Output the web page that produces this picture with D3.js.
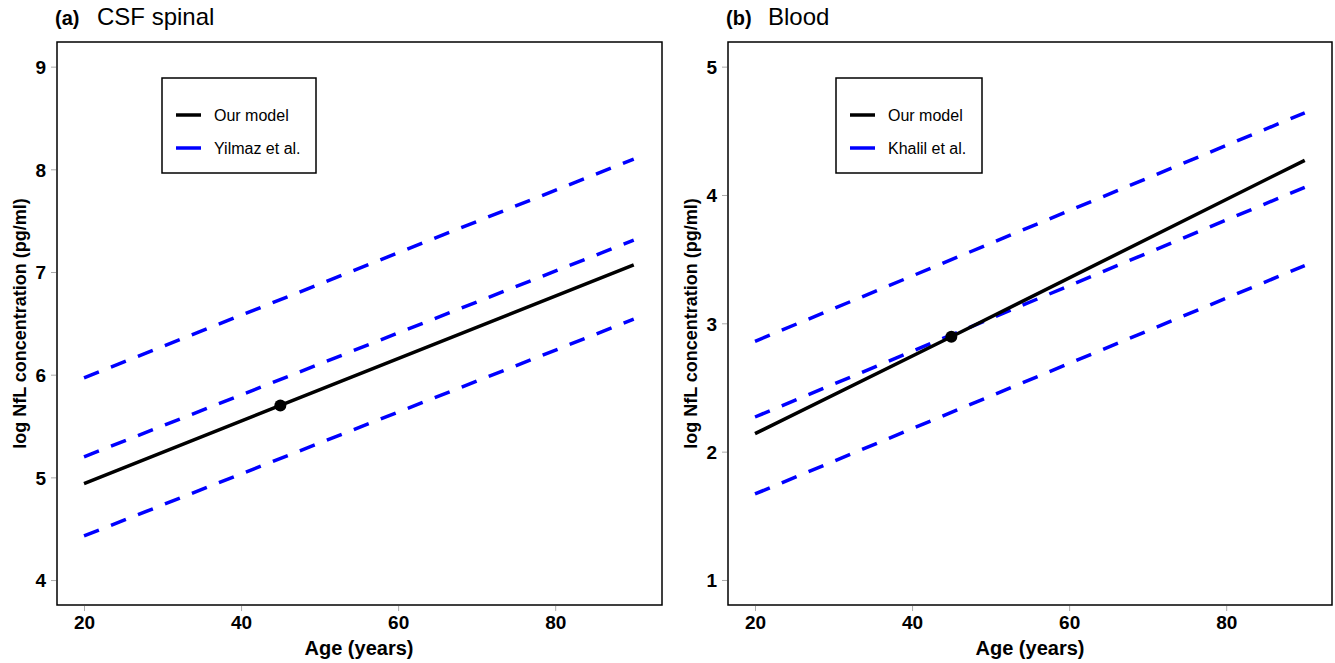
<!DOCTYPE html>
<html lang="en">
<head>
    <meta charset="UTF-8">
    <title>NfL vs age</title>
    <script src="https://d3js.org/d3.v7.min.js"></script>
    <style>
        body { margin: 0; padding: 0; background: white; }
        svg { font-family: "Liberation Sans", Arial, sans-serif; }
        .tick line { stroke: #aaa; }
        .tick text { font-weight: bold; font-size: 19px; fill: #000; }
    </style>
</head>
<body>
    <div id="chart"></div>
    <script>
        // values
        var ages = [20, 45, 90];
        var refAges = [20, 90];
        var xTicks = [20, 40, 60, 80];

        var csfModel = [4.94, 5.70, 7.07];
        var csfRefUpper = [5.97, 8.10];
        var csfRefMid = [5.20, 7.31];
        var csfRefLower = [4.43, 6.54];
        var csfTicks = [4, 5, 6, 7, 8, 9];

        var bloodModel = [2.14, 2.895, 4.27];
        var bloodRefUpper = [2.86, 4.64];
        var bloodRefMid = [2.27, 4.06];
        var bloodRefLower = [1.67, 3.45];
        var bloodTicks = [1, 2, 3, 4, 5];

        var width = 1335, height = 663;
        var svg = d3.select("#chart").append("svg")
            .attr("width", width)
            .attr("height", height);

        var panels = [
            { tag: "(a)", title: "CSF spinal", left: 57, right: 662, yDomain: [3.757, 9.24],
              model: csfModel, refs: [csfRefUpper, csfRefMid, csfRefLower], ticks: csfTicks,
              refName: "Yilmaz et al.", legend: [162, 78, 154, 95] },
            { tag: "(b)", title: "Blood", left: 728, right: 1332, yDomain: [0.805, 5.192],
              model: bloodModel, refs: [bloodRefUpper, bloodRefMid, bloodRefLower], ticks: bloodTicks,
              refName: "Khalil et al.", legend: [836, 78, 146, 95] }
        ];

        var plotTop = 42, plotBottom = 605;

        panels.forEach(function (p) {
            var g = svg.append("g");
            var x = d3.scaleLinear().domain([16.56, 93.6]).range([p.left, p.left + 605]);
            var y = d3.scaleLinear().domain(p.yDomain).range([plotBottom, plotTop]);

            // axes
            var xAxis = g.append("g")
                .attr("transform", "translate(0," + (plotBottom + 1) + ")")
                .call(d3.axisBottom(x).tickValues(xTicks).tickSize(5).tickPadding(5));
            xAxis.select(".domain").remove();

            var yAxis = g.append("g")
                .attr("transform", "translate(" + (p.left - 1) + ",0)")
                .call(d3.axisLeft(y).tickValues(p.ticks).tickFormat(d3.format("d")).tickSize(5).tickPadding(5));
            yAxis.select(".domain").remove();
            yAxis.selectAll("text").attr("dy", "0.36em");

            // reference lines
            var line = d3.line()
                .x(function (d) { return x(d[0]); })
                .y(function (d) { return y(d[1]); });

            p.refs.forEach(function (r) {
                g.append("path")
                    .datum(d3.zip(refAges, r))
                    .attr("d", line)
                    .attr("fill", "none")
                    .attr("stroke", "#0000ff")
                    .attr("stroke-width", 3.5)
                    .attr("stroke-dasharray", "16,13");
            });

            g.append("path")
                .datum(d3.zip(ages, p.model))
                .attr("d", line)
                .attr("fill", "none")
                .attr("stroke", "#000")
                .attr("stroke-width", 3.5);

            g.append("circle")
                .attr("cx", x(ages[1]))
                .attr("cy", y(p.model[1]))
                .attr("r", 6)
                .attr("fill", "#000");

            // box
            g.append("rect")
                .attr("x", p.left)
                .attr("y", plotTop)
                .attr("width", p.right - p.left)
                .attr("height", plotBottom - plotTop)
                .attr("fill", "none")
                .attr("stroke", "#000")
                .attr("stroke-width", 1.5);

            // legend
            var L = p.legend;
            g.append("rect")
                .attr("x", L[0]).attr("y", L[1])
                .attr("width", L[2]).attr("height", L[3])
                .attr("fill", "white")
                .attr("stroke", "#000")
                .attr("stroke-width", 1.5);
            [["Our model", "#000"], [p.refName, "#0000ff"]].forEach(function (e, i) {
                var ly = L[1] + 37 + i * 33;
                g.append("line")
                    .attr("x1", L[0] + 14).attr("x2", L[0] + 39)
                    .attr("y1", ly).attr("y2", ly)
                    .attr("stroke", e[1]).attr("stroke-width", 3.5);
                g.append("text")
                    .attr("x", L[0] + 52).attr("y", ly + 6)
                    .attr("font-size", 16)
                    .text(e[0]);
            });

            // titles and labels
            g.append("text")
                .attr("x", p.left - 2).attr("y", 25)
                .attr("font-size", 20).attr("font-weight", "bold")
                .text(p.tag);
            g.append("text")
                .attr("x", p.left + 40).attr("y", 25)
                .attr("font-size", 24)
                .text(p.title);

            g.append("text")
                .attr("x", p.left + 302).attr("y", 655)
                .attr("text-anchor", "middle")
                .attr("font-size", 20).attr("font-weight", "bold")
                .text("Age (years)");

            g.append("text")
                .attr("transform", "translate(" + (p.left - 31) + "," + ((plotTop + plotBottom) / 2) + ") rotate(-90)")
                .attr("text-anchor", "middle")
                .attr("font-size", 18).attr("font-weight", "bold")
                .text("log NfL concentration (pg/ml)");
        });
    </script>
</body>
</html>
